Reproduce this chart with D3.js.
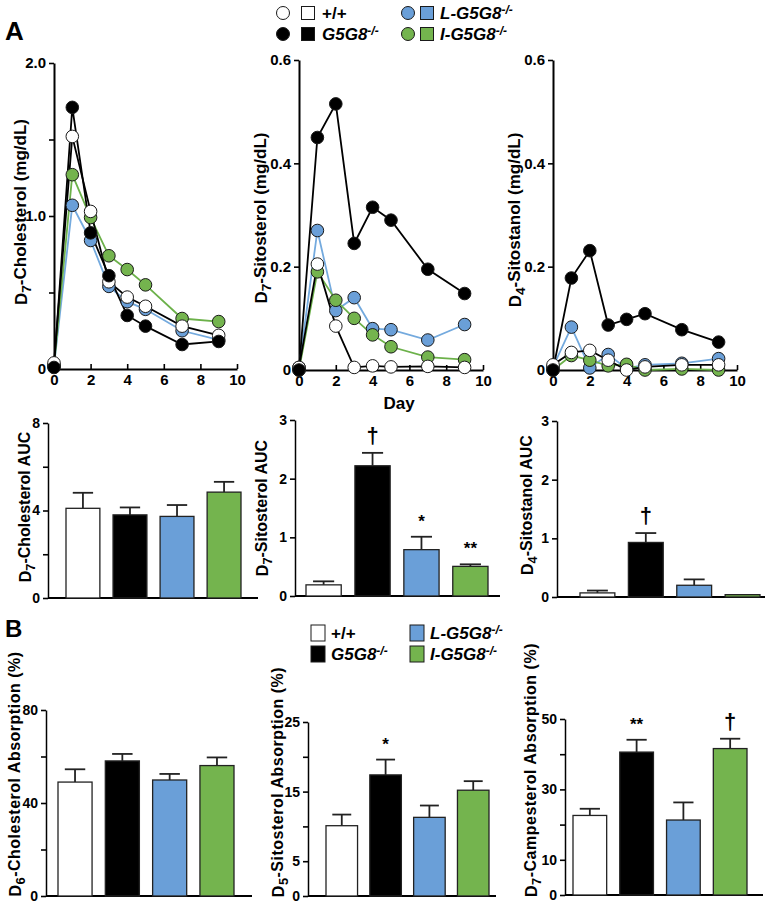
<!DOCTYPE html>
<html>
<head>
<meta charset="utf-8">
<title>Sterol absorption in G5G8 mice</title>
<script src="https://cdn.jsdelivr.net/npm/d3@7/dist/d3.min.js"></script>
<style>
    body { margin: 0; background: #fff; }
    svg text { font-family: "Liberation Sans", Arial, sans-serif; font-weight: bold; fill: #000; }
    .narrow { font-family: "Liberation Sans Narrow", "Liberation Sans", Arial, sans-serif; }
</style>
</head>
<body>
<svg id="fig" width="765" height="903"></svg>
<script>
// sampling days for plasma curves
const days = [0, 1, 2, 3, 4, 5, 7, 9];
// group order: +/+, G5G8-/-, L-G5G8-/-, I-G5G8-/-
const groups = ["wt", "ko", "liver", "intestine"];

// D7-cholesterol, mg/dL
const cholWT = [0.04, 1.52, 1.03, 0.57, 0.47, 0.41, 0.28, 0.22];
const cholKO = [0.01, 1.71, 0.89, 0.61, 0.35, 0.28, 0.16, 0.18];
const cholL = [0.02, 1.07, 0.84, 0.54, 0.44, 0.39, 0.25, 0.19];
const cholI = [0.02, 1.27, 0.99, 0.74, 0.65, 0.55, 0.33, 0.31];

// D7-sitosterol, mg/dL
const sitoWT = [0.005, 0.205, 0.085, 0.005, 0.008, 0.006, 0.007, 0.005];
const sitoKO = [0.0, 0.45, 0.515, 0.245, 0.315, 0.29, 0.195, 0.148];
const sitoL = [0.005, 0.27, 0.115, 0.14, 0.08, 0.078, 0.058, 0.088];
const sitoI = [0.0, 0.19, 0.135, 0.10, 0.068, 0.045, 0.025, 0.02];

// D4-sitostanol, mg/dL
const stanWT = [0.01, 0.034, 0.038, 0.019, 0.0, 0.006, 0.01, 0.01];
const stanKO = [0.0, 0.178, 0.231, 0.087, 0.098, 0.109, 0.078, 0.054];
const stanL = [0.006, 0.083, 0.004, 0.03, 0.003, 0.01, 0.013, 0.022];
const stanI = [0.0, 0.028, 0.019, 0.008, 0.011, 0.0, 0.002, 0.0];

// AUC bars (mean, sem)
const aucChol = [4.1, 3.8, 3.73, 4.84];
const aucCholSem = [0.71, 0.34, 0.52, 0.47];
const aucSito = [0.19, 2.22, 0.79, 0.505];
const aucSitoSem = [0.06, 0.22, 0.22, 0.035];
const aucStan = [0.07, 0.93, 0.2, 0.04];
const aucStanSem = [0.04, 0.16, 0.1, 0];

// fractional absorption, %
const absChol = [49.0, 58.1, 49.9, 56.1];
const absCholSem = [5.5, 3.0, 2.6, 3.5];
const absSito = [10.1, 17.4, 11.3, 15.2];
const absSitoSem = [1.6, 2.2, 1.7, 1.3];
const absCamp = [22.6, 40.6, 21.3, 41.6];
const absCampSem = [1.9, 3.5, 5.0, 2.8];

// significance marks
const sigAucSito = ["", "\u2020", "*", "**"];
const sigAucStan = ["", "\u2020", "", ""];
const sigAbsSito = ["", "*", "", ""];
const sigAbsCamp = ["", "**", "", "\u2020"];
const noSig = ["", "", "", ""];

const fills = ["#ffffff", "#000000", "#6a9fd8", "#74b44e"];
const lineColors = ["#000000", "#000000", "#74aade", "#6cb14a"];

const svg = d3.select("#fig");

function styleAxis(g) {
    g.select(".domain").attr("stroke", "#000").attr("stroke-width", 2);
    g.selectAll(".tick line").attr("stroke", "#000").attr("stroke-width", 1.6);
    g.selectAll(".tick text").attr("fill", "#000");
}

// rotated axis title with a subscript after the D
function yTitle(x, y, sub, rest, size, spacing) {
    const t = svg.append("text")
        .attr("transform", `translate(${x},${y}) rotate(-90)`)
        .attr("text-anchor", "middle")
        .style("font-size", size + "px")
        .style("letter-spacing", (spacing || 0) + "px");
    t.append("tspan").text("D");
    t.append("tspan").attr("dy", "0.28em").style("font-size", (size * 0.8) + "px").text(sub);
    t.append("tspan").attr("dy", "-0.28em").text(rest);
}

function lineChart(o) {
    const x = d3.scaleLinear().domain([0, 10]).range([o.x0, o.x1]);
    const y = d3.scaleLinear().domain([0, o.ymax]).range([o.yb, o.yt]);

    const ya = svg.append("g")
        .attr("transform", `translate(${o.x0},0)`)
        .call(d3.axisLeft(y).tickValues(o.ticks).tickSizeInner(5).tickSizeOuter(0).tickPadding(3)
            .tickFormat((d, i) => o.labels[i]));
    ya.selectAll(".tick text").style("font-size", "15px");
    styleAxis(ya);

    const xa = svg.append("g")
        .attr("transform", `translate(0,${o.yb})`)
        .call(d3.axisBottom(x).tickValues([0, 2, 4, 6, 8, 10]).tickSizeInner(-5).tickSizeOuter(0).tickPadding(5));
    xa.selectAll(".tick text").style("font-size", "15px");
    styleAxis(xa);

    const line = d3.line().x((d, i) => x(days[i])).y(d => y(d));
    const order = [2, 3, 0, 1];
    order.forEach(k => {
        svg.append("path").datum(o.series[k])
            .attr("d", line).attr("fill", "none")
            .attr("stroke", lineColors[k]).attr("stroke-width", 1.8);
    });
    order.forEach(k => {
        svg.append("g").selectAll("circle")
            .data(o.series[k]).enter().append("circle")
            .attr("cx", (d, i) => x(days[i]))
            .attr("cy", d => y(d))
            .attr("r", 6.3)
            .attr("fill", fills[k])
            .attr("stroke", "#1a1a1a").attr("stroke-width", 1);
    });
    yTitle(o.tx, o.ty, o.sub, o.title, 17);
}

function barChart(o) {
    const x = d3.scaleBand().domain(groups).range([o.b0, o.b1]).paddingInner(0.28);
    const y = d3.scaleLinear().domain([0, o.ymax]).range([o.yb, o.yt]);

    const ya = svg.append("g")
        .attr("transform", `translate(${o.x0},0)`)
        .call(d3.axisLeft(y).tickValues(o.ticks).tickSizeInner(5).tickSizeOuter(0).tickPadding(3)
            .tickFormat((d, i) => o.labels[i]));
    ya.selectAll(".tick text").attr("class", "narrow").style("font-size", "14px");
    styleAxis(ya);
    ya.select(".domain").attr("stroke-width", 1.5);

    svg.append("line")
        .attr("x1", o.x0).attr("x2", o.xe)
        .attr("y1", o.yb).attr("y2", o.yb)
        .attr("stroke", "#000").attr("stroke-width", 1.8);

    const bw = x.bandwidth();
    const g = svg.append("g");
    groups.forEach((gr, i) => {
        const top = y(o.mean[i]);
        const et = y(o.mean[i] + o.sem[i]);
        if (o.sem[i] > 0) {
            g.append("line").attr("x1", x(gr) + bw / 2).attr("x2", x(gr) + bw / 2)
                .attr("y1", top).attr("y2", et).attr("stroke", "#222").attr("stroke-width", 1.8);
            g.append("line").attr("x1", x(gr) + bw * 0.2).attr("x2", x(gr) + bw * 0.8)
                .attr("y1", et).attr("y2", et).attr("stroke", "#222").attr("stroke-width", 1.8);
        }
        g.append("rect")
            .attr("x", x(gr)).attr("width", bw)
            .attr("y", top).attr("height", o.yb - top)
            .attr("fill", fills[i])
            .attr("stroke", "#222").attr("stroke-width", 1.3);
        if (o.sig[i]) {
            g.append("text")
                .attr("x", x(gr) + bw / 2).attr("y", et - 10)
                .attr("text-anchor", "middle")
                .style("font-size", o.sig[i] === "\u2020" ? "22px" : "17px")
                .text(o.sig[i]);
        }
    });
    yTitle(o.tx, o.ty, o.sub, o.title, o.tsize, o.tspace);
}

// Panel A, plasma curves
lineChart({ x0: 54, x1: 237, yb: 369, yt: 63, ymax: 2,
    ticks: [0, 0.5, 1, 1.5, 2], labels: ["0", "", "1.0", "", "2.0"],
    series: [cholWT, cholKO, cholL, cholI], tx: 27, ty: 212, sub: "7", title: "-Cholesterol (mg/dL)" });
lineChart({ x0: 299, x1: 483, yb: 370, yt: 60, ymax: 0.6,
    ticks: [0, 0.2, 0.4, 0.6], labels: ["0", "0.2", "0.4", "0.6"],
    series: [sitoWT, sitoKO, sitoL, sitoI], tx: 267, ty: 218, sub: "7", title: "-Sitosterol (mg/dL)" });
lineChart({ x0: 553, x1: 737, yb: 370, yt: 60, ymax: 0.6,
    ticks: [0, 0.2, 0.4, 0.6], labels: ["0", "0.2", "0.4", "0.6"],
    series: [stanWT, stanKO, stanL, stanI], tx: 521, ty: 220, sub: "4", title: "-Sitostanol (mg/dL)" });

svg.append("text").attr("x", 399).attr("y", 409).attr("text-anchor", "middle")
    .attr("class", "narrow").style("font-size", "17px").text("Day");

// Panel A, AUC bars
barChart({ x0: 48, xe: 258, b0: 66, b1: 241, yb: 598, yt: 423, ymax: 8,
    ticks: [0, 2, 4, 6, 8], labels: ["0", "", "4", "", "8"],
    mean: aucChol, sem: aucCholSem, sig: noSig,
    tx: 31, ty: 507, sub: "7", title: "-Cholesterol AUC", tsize: 16 });
barChart({ x0: 295, xe: 500, b0: 306, b1: 488, yb: 596, yt: 420, ymax: 3,
    ticks: [0, 1, 2, 3], labels: ["0", "1", "2", "3"],
    mean: aucSito, sem: aucSitoSem, sig: sigAucSito,
    tx: 268, ty: 508, sub: "7", title: "-Sitosterol AUC", tsize: 16 });
barChart({ x0: 557, xe: 765, b0: 580, b1: 760, yb: 597, yt: 421, ymax: 3,
    ticks: [0, 1, 2, 3], labels: ["0", "1", "2", "3"],
    mean: aucStan, sem: aucStanSem, sig: sigAucStan,
    tx: 533, ty: 505, sub: "4", title: "-Sitostanol AUC", tsize: 16 });

// Panel B, absorption bars
barChart({ x0: 46, xe: 252, b0: 58, b1: 234, yb: 896, yt: 710, ymax: 80,
    ticks: [0, 20, 40, 60, 80], labels: ["0", "", "40", "", "80"],
    mean: absChol, sem: absCholSem, sig: noSig,
    tx: 21, ty: 774, sub: "6", title: "-Cholesterol Absorption (%)", tsize: 16, tspace: 0.5 });
barChart({ x0: 308, xe: 496, b0: 326, b1: 489, yb: 896, yt: 722, ymax: 25,
    ticks: [0, 5, 10, 15, 20, 25], labels: ["0", "5", "", "15", "", "25"],
    mean: absSito, sem: absSitoSem, sig: sigAbsSito,
    tx: 284, ty: 782, sub: "5", title: "-Sitosterol Absorption (%)", tsize: 16, tspace: 0.5 });
barChart({ x0: 565, xe: 763, b0: 573, b1: 747, yb: 895, yt: 719, ymax: 50,
    ticks: [0, 10, 20, 30, 40, 50], labels: ["0", "10", "", "30", "", "50"],
    mean: absCamp, sem: absCampSem, sig: sigAbsCamp,
    tx: 537, ty: 770, sub: "7", title: "-Campesterol Absorption (%)", tsize: 16, tspace: 0.5 });

// panel letters
svg.append("text").attr("x", 5).attr("y", 40).style("font-size", "26px").text("A");
svg.append("text").attr("x", 5).attr("y", 637).style("font-size", "24px").text("B");

// legends
function legendLabel(x, y, name, italic) {
    const t = svg.append("text").attr("x", x).attr("y", y + 6)
        .attr("class", "narrow").style("font-size", "17px");
    if (!italic) { t.text(name); return; }
    t.style("font-style", "italic");
    t.append("tspan").text(name);
    t.append("tspan").attr("dy", "-0.45em").style("font-size", "12px").text("-/-");
}
const legendNames = ["+/+", "G5G8", "L-G5G8", "I-G5G8"];
const legendCols = [[283, 308, 322], [283, 308, 322], [408, 427, 440], [408, 427, 440]];
const legendRowsA = [13, 34, 13, 34];
const legendRowsB = [633, 654, 633, 654];
groups.forEach((gr, i) => {
    const c = legendCols[i];
    svg.append("circle").attr("cx", c[0]).attr("cy", legendRowsA[i]).attr("r", 6.5)
        .attr("fill", fills[i]).attr("stroke", "#1a1a1a").attr("stroke-width", 1);
    svg.append("rect").attr("x", c[1] - 6.5).attr("y", legendRowsA[i] - 6.5)
        .attr("width", 13).attr("height", 13)
        .attr("fill", fills[i]).attr("stroke", "#1a1a1a").attr("stroke-width", 1);
    legendLabel(c[2], legendRowsA[i], legendNames[i], i > 0);

    const bx = [318, 318, 417, 417][i];
    svg.append("rect").attr("x", bx - 7).attr("y", legendRowsB[i] - 8)
        .attr("width", 14).attr("height", 16)
        .attr("fill", fills[i]).attr("stroke", "#1a1a1a").attr("stroke-width", 1);
    legendLabel(bx + 13, legendRowsB[i], legendNames[i], i > 0);
});
</script>
</body>
</html>
